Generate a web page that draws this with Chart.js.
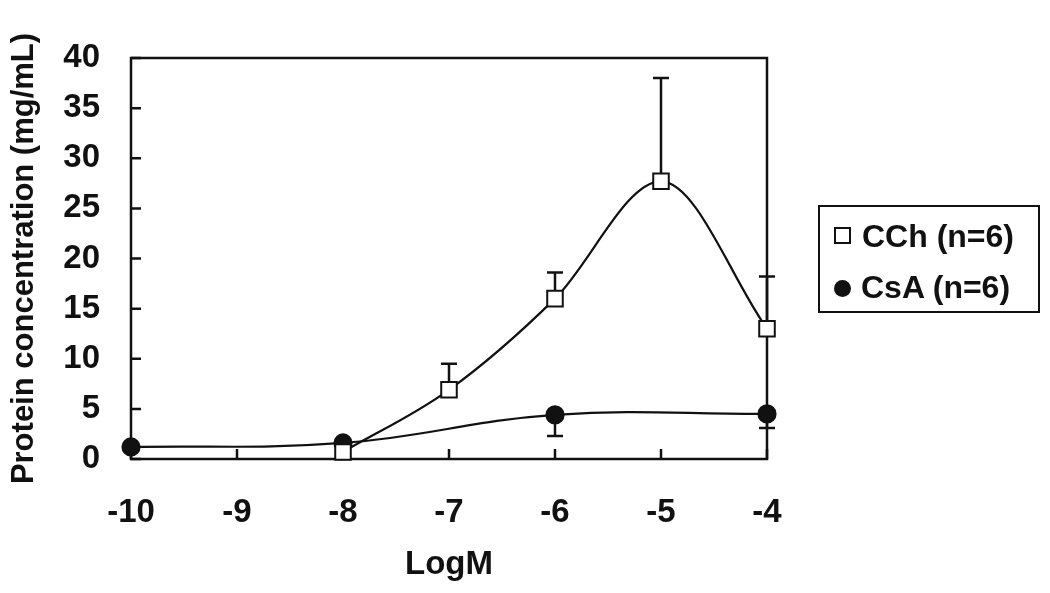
<!DOCTYPE html>
<html>
<head>
<meta charset="utf-8">
<script src="https://cdn.jsdelivr.net/npm/chart.js@4/dist/chart.umd.min.js"></script>
<style>
  html, body { margin: 0; padding: 0; background: #fff; }
  #wrap { position: relative; width: 1050px; height: 593px; }
  #legend {
    position: absolute; left: 818px; top: 205px; width: 222px; height: 108px;
    border: 2.5px solid #111; box-sizing: border-box;
    font-family: "Liberation Sans", Arial, sans-serif; font-weight: bold; font-size: 32px; color: #111;
  }
  #legend .row { position: absolute; left: 14px; height: 38px; line-height: 38px; white-space: nowrap; }
  #legend .sq { display: inline-block; width: 13px; height: 13px; border: 2px solid #111; margin-right: 11px; vertical-align: 3px; }
  #legend .dot { display: inline-block; width: 17px; height: 17px; border-radius: 50%; background: #111; margin-right: 10px; vertical-align: 1px; }
</style>
</head>
<body>
<div id="wrap">
  <canvas id="proteinChart" width="1050" height="593"></canvas>
  <div id="legend">
    <div class="row" style="top:10px"><span class="sq"></span>CCh (n=6)</div>
    <div class="row" style="top:61px"><span class="dot"></span>CsA (n=6)</div>
  </div>
</div>
<script>
// data
var cchLogM = [-8, -7, -6, -5, -4];
var cchValues = [0.7, 6.9, 16.0, 27.7, 13.0];
var cchErrUp = [0, 2.6, 2.6, 10.3, 5.2];

var csaLogM = [-10, -8, -6, -4];
var csaValues = [1.2, 1.6, 4.4, 4.5];
var csaErrDown = [0, 0, 2.1, 1.4];

var xTicks = [-10, -9, -8, -7, -6, -5, -4];
var yTicks = [0, 5, 10, 15, 20, 25, 30, 35, 40];

var fontFamily = "'Liberation Sans', Arial, sans-serif";
var axisFont = { family: fontFamily, weight: 'bold', size: 33 };

function toPoints(xs, ys) {
    return xs.map(function (x, i) { return { x: x, y: ys[i] }; });
}

// error bars + inward ticks + frame
var extrasPlugin = {
    id: 'extras',
    beforeDatasetsDraw: function (chart) {
        var ctx = chart.ctx, a = chart.chartArea;
        var xs = chart.scales.x, ys = chart.scales.y;
        ctx.save();
        ctx.strokeStyle = '#111';
        ctx.lineWidth = 2.5;
        // frame and inward ticks
        ctx.strokeRect(a.left, a.top, a.right - a.left, a.bottom - a.top);
        ctx.beginPath();
        yTicks.forEach(function (v) {
            var p = ys.getPixelForValue(v);
            ctx.moveTo(a.left, p); ctx.lineTo(a.left + 10, p);
        });
        xTicks.forEach(function (v) {
            var p = xs.getPixelForValue(v);
            ctx.moveTo(p, a.bottom); ctx.lineTo(p, a.bottom - 10);
        });
        ctx.stroke();
        // error bars
        function bar(x, v, e) {
            if (!e) return;
            var px = xs.getPixelForValue(x);
            var p0 = ys.getPixelForValue(v), p1 = ys.getPixelForValue(v + e);
            ctx.beginPath();
            ctx.moveTo(px, p0); ctx.lineTo(px, p1);
            ctx.moveTo(px - 8, p1); ctx.lineTo(px + 8, p1);
            ctx.stroke();
        }
        cchLogM.forEach(function (x, i) { bar(x, cchValues[i], cchErrUp[i]); });
        csaLogM.forEach(function (x, i) { bar(x, csaValues[i], -csaErrDown[i]); });
        ctx.restore();
    }
};

var ctx = document.getElementById('proteinChart').getContext('2d');
var proteinChart = new Chart(ctx, {
    type: 'line',
    data: {
        datasets: [{
            label: 'CCh (n=6)',
            data: toPoints(cchLogM, cchValues),
            borderColor: '#111',
            borderWidth: 2.2,
            cubicInterpolationMode: 'monotone',
            pointStyle: 'rect',
            pointRadius: 11,
            pointBackgroundColor: '#fff',
            pointBorderColor: '#111',
            pointBorderWidth: 2,
            clip: false,
            fill: false
        }, {
            label: 'CsA (n=6)',
            data: toPoints(csaLogM, csaValues),
            borderColor: '#111',
            borderWidth: 2.2,
            tension: 0.4,
            pointStyle: 'circle',
            pointRadius: 8.5,
            pointBackgroundColor: '#111',
            pointBorderColor: '#111',
            clip: false,
            fill: false
        }]
    },
    options: {
        responsive: false,
        animation: false,
        events: [],
        layout: { padding: { left: 6, right: 283, top: 58, bottom: 4 } },
        plugins: { legend: { display: false }, tooltip: { enabled: false } },
        scales: {
            x: {
                type: 'linear',
                min: -10, max: -4,
                afterBuildTicks: function (s) { s.ticks = xTicks.map(function (v) { return { value: v }; }); },
                afterFit: function (s) { s.height = 593 - 459 - 4; },
                grid: { display: false, drawTicks: false },
                border: { display: false },
                ticks: { color: '#111', font: axisFont, padding: 34 },
                title: { display: true, text: 'LogM', color: '#111', padding: { top: 12 },
                         font: { family: fontFamily, weight: 'bold', size: 33 } }
            },
            y: {
                min: 0, max: 40,
                afterBuildTicks: function (s) { s.ticks = yTicks.map(function (v) { return { value: v }; }); },
                afterFit: function (s) { s.width = 131 - 6; },
                grid: { display: false, drawTicks: false },
                border: { display: false },
                ticks: { color: '#111', font: axisFont, padding: 31 },
                title: { display: true, text: 'Protein concentration (mg/mL)', color: '#111', padding: 0,
                         font: { family: fontFamily, weight: 'bold', size: 31 } }
            }
        }
    },
    plugins: [extrasPlugin]
});
</script>
</body>
</html>
